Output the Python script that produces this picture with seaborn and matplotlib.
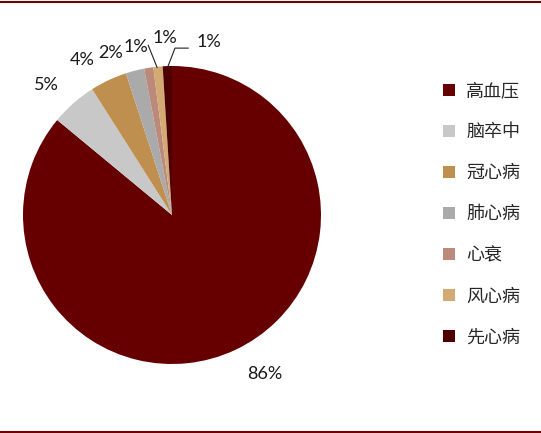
import matplotlib
matplotlib.use("Agg")
import matplotlib.pyplot as plt
import seaborn as sns
from matplotlib.lines import Line2D
from matplotlib.patches import Patch

# === Dados
categorias = ["高血压", "脑卒中", "冠心病", "肺心病", "心衰", "风心病", "先心病"]
valores = [86, 5, 4, 2, 1, 1, 1]
rotulos = ["86%", "5%", "4%", "2%", "1%", "1%", "1%"]
cores = ["#660000", "#C8C8C8", "#BF8F4F", "#AAAAAA", "#BC8A7A", "#D4AA74", "#4D0000"]

sns.set_theme(style="white")
plt.rcParams["font.family"] = ["Lato", "DejaVu Sans"]

W, H = 541, 433
fig = plt.figure(figsize=(W / 100, H / 100), dpi=100)

# pie centre (172, 215) px, radius 149 px
cx, cy, r = 172, 215, 149
ax = fig.add_axes([(cx - r) / W, (H - cy - r) / H, 2 * r / W, 2 * r / H])
wedges, _ = ax.pie(valores, colors=cores, startangle=90, counterclock=False,
                   wedgeprops=dict(linewidth=0))
ax.set_xlim(-1, 1)
ax.set_ylim(-1, 1)
ax.set_aspect("equal")
ax.axis("off")

# label positions (pie data coords)
pos = [(0.62, -1.07), (-0.84, 0.87), (-0.60, 1.04), (-0.41, 1.09),
       (-0.24, 1.13), (-0.05, 1.19), (0.25, 1.16)]
for txt, (x, y) in zip(rotulos, pos):
    ax.text(x, y, txt, ha="center", va="center", fontsize=13, color="#1a1a1a")

# leader lines
ax.add_line(Line2D([-0.16, -0.10], [1.14, 0.99], color="#222222", lw=0.8, clip_on=False))
ax.add_line(Line2D([0.11, 0.02, -0.03], [1.12, 1.12, 0.99], color="#222222", lw=0.8, clip_on=False))

# legend
handles = [Patch(facecolor=c, edgecolor="none") for c in cores]
fig.legend(handles, categorias, loc="upper left",
           bbox_to_anchor=(443 / W, (H - 82) / H), frameon=False,
           prop={"family": ["Noto Sans CJK SC", "DejaVu Sans"], "size": 13},
           handlelength=0.65, handleheight=0.65, handletextpad=0.65,
           labelspacing=1.28, borderpad=0, borderaxespad=0)

# top and bottom rules
fig.add_artist(Line2D([0, 1], [1 - 1.5 / H, 1 - 1.5 / H], color="#700000", lw=1.5,
                      transform=fig.transFigure))
fig.add_artist(Line2D([0, 1], [1.5 / H, 1.5 / H], color="#700000", lw=1.5,
                      transform=fig.transFigure))

fig.savefig("out.png", dpi=100)
